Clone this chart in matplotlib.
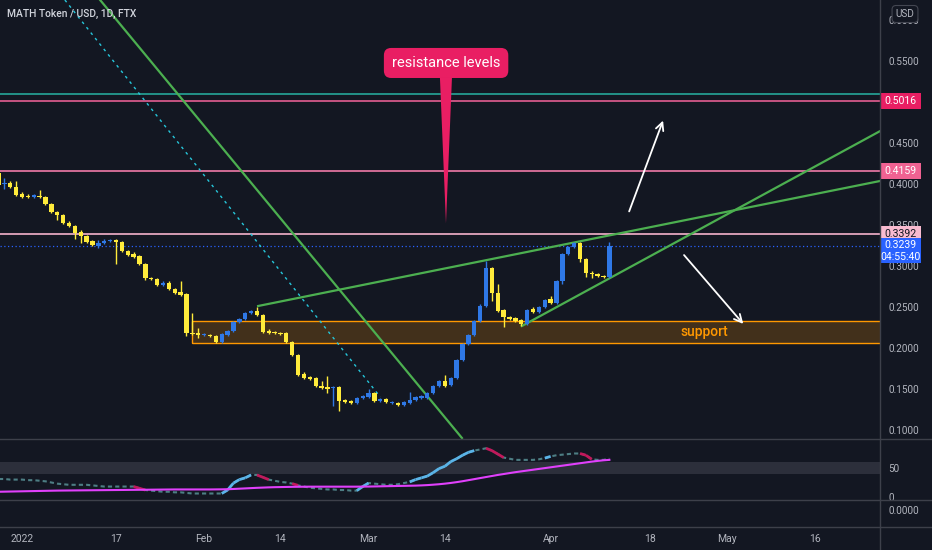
import numpy as np
import matplotlib.pyplot as plt
from matplotlib.patches import Rectangle, Polygon
from matplotlib.lines import Line2D

plt.rcParams['font.family'] = ['Roboto', 'DejaVu Sans']

BG = '#131722'
AXC = '#b2b5be'
SEP = '#3d404a'
UP = '#2f78e6'
DOWN = '#ffeb3b'

# daily candles from 28 Dec 2021 to 11 Apr 2022, x = days since 1 Jan 2022
first_day = -4
opens = [.4134, .4000, .4012, .3963, .3878, .3854, .3846, .3854, .3841, .3756,
         .3659, .3622, .3524, .3488, .3415, .3366, .3305, .3244, .3280, .3305,
         .3317, .3293, .3183, .3146, .3122, .3024, .2854, .2841, .2768, .2793,
         .2720, .2683, .2659, .2183, .2183, .2159, .2159, .2146, .2073, .2159,
         .2207, .2317, .2354, .2427, .2451, .2402, .2207, .2195, .2183, .2183,
         .2073, .1915, .1683, .1646, .1634, .1537, .1524, .1512, .1524, .1366,
         .1354, .1329, .1390, .1402, .1451, .1354, .1378, .1329, .1329, .1305,
         .1329, .1366, .1390, .1390, .1451, .1537, .1598, .1549, .1634, .1854,
         .2049, .2159, .2329, .2512, .2976, .2671, .2463, .2378, .2366, .2341,
         .2293, .2476, .2439, .2500, .2598, .2549, .2817, .3146, .3232, .3280,
         .3085, .2915, .2902, .2878, .2866]
highs = [.4171, .4073, .4037, .4037, .3902, .3878, .3878, .3927, .3854, .3768,
         .3671, .3634, .3549, .3500, .3439, .3378, .3317, .3317, .3329, .3329,
         .3329, .3305, .3195, .3171, .3134, .3037, .2866, .2854, .2817, .2817,
         .2732, .2817, .2671, .2427, .2244, .2183, .2171, .2159, .2183, .2220,
         .2329, .2366, .2439, .2463, .2500, .2415, .2232, .2207, .2195, .2195,
         .2085, .1927, .1707, .1659, .1646, .1598, .1659, .1537, .1537, .1378,
         .1366, .1402, .1427, .1500, .1463, .1390, .1390, .1354, .1341, .1354,
         .1463, .1415, .1427, .1463, .1549, .1610, .1671, .1646, .1866, .2061,
         .2171, .2341, .2537, .3061, .2988, .2780, .2476, .2390, .2378, .2354,
         .2476, .2500, .2512, .2598, .2634, .2829, .3159, .3244, .3293, .3293,
         .3098, .2939, .2915, .2890, .3293]
lows = [.3976, .3939, .3951, .3854, .3829, .3829, .3829, .3829, .3744, .3646,
        .3561, .3512, .3476, .3329, .3280, .3280, .3244, .3220, .3268, .3293,
        .3024, .3171, .3122, .3098, .3012, .2829, .2829, .2756, .2756, .2707,
        .2659, .2634, .2146, .2159, .2122, .2146, .2134, .2061, .2061, .2146,
        .2195, .2305, .2341, .2415, .2390, .2183, .2171, .2171, .2159, .2061,
        .1902, .1659, .1622, .1610, .1524, .1500, .1451, .1293, .1232, .1329,
        .1317, .1317, .1378, .1390, .1341, .1341, .1329, .1317, .1293, .1293,
        .1317, .1354, .1378, .1378, .1439, .1524, .1524, .1537, .1622, .1841,
        .2037, .2146, .2317, .2500, .2573, .2439, .2256, .2341, .2317, .2268,
        .2280, .2427, .2427, .2488, .2537, .2537, .2780, .3134, .3220, .3049,
        .2866, .2854, .2866, .2854, .2854]
closes = [.3988, .4012, .3963, .3866, .3841, .3841, .3860, .3841, .3756, .3659,
          .3622, .3524, .3488, .3402, .3366, .3293, .3256, .3280, .3305, .3317,
          .3293, .3183, .3134, .3110, .3024, .2854, .2841, .2768, .2793, .2720,
          .2671, .2646, .2183, .2171, .2159, .2171, .2146, .2073, .2171, .2207,
          .2317, .2354, .2427, .2451, .2402, .2195, .2183, .2183, .2171, .2073,
          .1915, .1671, .1634, .1622, .1537, .1512, .1500, .1524, .1354, .1341,
          .1329, .1390, .1415, .1451, .1354, .1378, .1341, .1341, .1305, .1341,
          .1366, .1402, .1415, .1451, .1537, .1598, .1537, .1634, .1854, .2049,
          .2159, .2329, .2512, .2976, .2671, .2451, .2378, .2354, .2329, .2293,
          .2463, .2439, .2500, .2585, .2549, .2817, .3146, .3232, .3280, .3085,
          .2915, .2902, .2878, .2866, .3239]

# oscillator pane
osc = [31, 31, 30, 30, 30, 29, 29, 28, 27, 25,
       23, 22, 21, 21, 21, 21, 20, 19, 18, 18,
       18, 18, 18, 18, 15, 12, 11, 10, 9, 9,
       8, 8, 7, 6, 6, 6, 6, 6, 6, 12,
       24, 30, 33, 38, 38, 34, 30, 28, 26, 25,
       23, 20, 18, 16, 15, 14, 13, 13, 12, 12,
       11, 11, 18, 24, 23, 22, 21, 21, 22, 24,
       26, 30, 33, 36, 42, 49, 53, 61, 66, 72,
       77, 80, 82, 84, 80, 74, 68, 66, 64, 64,
       64, 64, 65, 67, 70, 72, 73, 74, 75, 75,
       72, 65, 64, 64, 66]
osc_ma = [9.0, 9.2, 9.4, 9.6, 9.8, 10.0, 10.2, 10.4, 10.6, 10.8,
          11.0, 11.1, 11.2, 11.3, 11.4, 11.5, 11.6, 11.7, 11.8, 11.9,
          12.0, 12.1, 12.2, 12.3, 12.4, 12.5, 12.6, 12.7, 12.8, 12.9,
          13.0, 13.0, 13.0, 13.0, 13.0, 13.0, 13.0, 13.1, 13.2, 13.4,
          13.8, 14.3, 14.8, 15.3, 15.8, 16.2, 16.6, 16.9, 17.1, 17.3,
          17.5, 17.6, 17.7, 17.8, 17.8, 17.8, 17.8, 17.8, 17.8, 17.8,
          17.8, 17.8, 17.9, 18.0, 18.2, 18.4, 18.6, 18.8, 19.0, 19.2,
          19.4, 19.6, 20.0, 20.5, 21.2, 22.0, 23.0, 24.2, 25.6, 27.2,
          29.0, 30.8, 32.6, 34.4, 36.2, 38.0, 39.6, 41.2, 42.8, 44.2,
          45.6, 47.0, 48.4, 49.8, 51.2, 52.6, 54.0, 55.4, 56.8, 58.2,
          59.6, 61.0, 62.2, 63.2, 64.0]

# drawings
teal_level = 0.5098
res_levels = [0.5016, 0.4159, 0.3392]
res_line_colors = ['#e35d91', '#f07aa8', '#f5b3cc']
res_tag_colors = ['#e91e63', '#f06292', '#f8bbd0']
res_text_colors = ['white', 'white', '#131722']
last_price = 0.3239
countdown = '04:55:40'
support_zone = (0.2061, 0.2329)
support_start = 28.9
steep_line = [(13.3, 0.6244), (74.9, 0.0902)]
dashed_line = [(7.3, 0.6244), (61.0, 0.1402)]
upper_trend = [(40.2, 0.2512), (146.1, 0.4037)]
lower_trend = [(85.1, 0.2268), (146.1, 0.4646)]
arrow_up = [(103.2, 0.3634), (109.3, 0.4805)]
arrow_down = [(112.4, 0.3159), (123.1, 0.2268)]

tick_days = [0, 16, 31, 44, 59, 72, 90, 107, 120, 135]
tick_names = ['2022', '17', 'Feb', '14', 'Mar', '14', 'Apr', '18', 'May', '16']
price_ticks = [0.10, 0.15, 0.20, 0.25, 0.30, 0.35, 0.40, 0.45, 0.50, 0.55, 0.60]

W, H = 932, 550
def box(x0, y0, x1, y1):
    return [x0 / W, 1 - y1 / H, (x1 - x0) / W, (y1 - y0) / H]

fig = plt.figure(figsize=(W / 100, H / 100), dpi=100)
fig.patch.set_facecolor(BG)
ax = fig.add_axes(box(0, 0, 880, 439))
ax2 = fig.add_axes(box(0, 439, 880, 500), sharex=ax)
ax3 = fig.add_axes(box(0, 500, 880, 527), sharex=ax)
for a in (ax, ax2, ax3):
    a.set_facecolor(BG)
    for s in a.spines.values():
        s.set_visible(False)
    a.yaxis.tick_right()
    a.tick_params(axis='y', length=0, pad=6, labelsize=7.2, labelcolor=AXC)
    a.tick_params(axis='x', length=0)

ymin, ymax = 0.0890, 0.6244
ax.set_xlim(-3.745, 146.07)
ax.set_ylim(ymin, ymax)
px = (ymax - ymin) / 439

# candles
days = np.arange(len(opens)) + first_day
o = np.array(opens); c = np.array(closes)
cols = [UP if cc >= oo else DOWN for oo, cc in zip(o, c)]
ax.vlines(days, lows, highs, colors=cols, lw=1, zorder=4)
ax.bar(days, np.maximum(np.abs(c - o), 1.2 * px), bottom=np.minimum(o, c),
       width=0.74, color=cols, zorder=4, linewidth=0)

# levels
ax.axhline(teal_level, color='#26a69a', lw=1.2, zorder=3)
for lv, lc in zip(res_levels, res_line_colors):
    ax.axhline(lv, color=lc, lw=1.2, zorder=3)
ax.axhline(last_price, color='#2962ff', lw=0.9, ls=(0, (1, 2)), zorder=3)

# support zone
ax.add_patch(Rectangle((support_start, support_zone[0]), 200, support_zone[1] - support_zone[0],
                       fc='#ff9800', alpha=0.2, ec='none', zorder=2))
ax.add_patch(Rectangle((support_start, support_zone[0]), 200, support_zone[1] - support_zone[0],
                       fc='none', ec='#ff9800', lw=1, zorder=2))
ax.text(116.1, sum(support_zone) / 2, 'support', color='#ff9800', fontsize=10,
        ha='center', va='center', fontweight='medium', zorder=5)

# trend lines
for (x0, y0), (x1, y1) in (steep_line, upper_trend, lower_trend):
    ax.plot([x0, x1], [y0, y1], color='#4caf50', lw=1.6, zorder=3)
ax.plot(*zip(*dashed_line), color='#26c6da', lw=1, ls=(0, (2, 3)), zorder=3)

for s, e in (arrow_up, arrow_down):
    ax.annotate('', xy=e, xytext=s,
                arrowprops=dict(arrowstyle='->', color='white', lw=1.3, mutation_scale=14))

# callout
ax.add_patch(Polygon([(71.15, 0.530), (73.2, 0.530), (72.18, 0.352)],
                     closed=True, fc='#e91e63', ec='none', zorder=6))
ax.text(72.2, 0.5476, 'resistance levels', color='white', fontsize=10.5,
        ha='center', va='center', zorder=7,
        bbox=dict(boxstyle='round,pad=0.55,rounding_size=0.5', fc='#e91e63', ec='none'))

# price axis (0.5000 is hidden behind the 0.5016 tag)
ax.set_yticks(price_ticks)
ax.set_yticklabels(['' if abs(t - 0.5) < 1e-9 else f'{t:.4f}' for t in price_ticks])
ytr = ax.get_yaxis_transform()

def tag(price, up, dn, fc):
    ax.add_patch(Rectangle((1.0, price - dn * px), 41 / 880, (up + dn) * px,
                           transform=ytr, clip_on=False, fc=fc, ec='none', zorder=8))

for lv, fc, tc in zip(res_levels, res_tag_colors, res_text_colors):
    tag(lv, 8, 8, fc)
    ax.text(1.0 + 20.5 / 880, lv, f'{lv:.4f}', transform=ytr, ha='center', va='center',
            color=tc, fontsize=7.6, zorder=9, clip_on=False)
tag(last_price, 8.5, 16.5, '#2962ff')
ax.text(1.0 + 20.5 / 880, last_price + 1 * px, f'{last_price:.4f}', transform=ytr,
        ha='center', va='center', color='white', fontsize=7.6, zorder=9, clip_on=False)
ax.text(1.0 + 20.5 / 880, last_price - 11 * px, countdown, transform=ytr,
        ha='center', va='center', color='white', fontsize=7.6, zorder=9, clip_on=False)

fig.text(905 / W, 1 - 14 / H, 'USD', color=AXC, fontsize=7.2, ha='center', va='center',
         zorder=10, bbox=dict(boxstyle='round,pad=0.35,rounding_size=0.4', fc=BG, ec='#434651', lw=0.8))
fig.text(7 / W, 1 - 14 / H, 'MATH Token / USD, 1D, FTX', color='#d1d4dc', fontsize=7.4,
         ha='left', va='center', fontweight='medium')

# oscillator pane
ax2.set_ylim(-5.2, 100)
ax2.axhspan(40, 60, color='#2c2f3b', zorder=1, lw=0)
ax2.plot(days, osc, color='#4d7e84', lw=1.5, ls=(0, (2, 1.5)), zorder=3)
for i in range(1, len(osc)):
    d = osc[i] - osc[i - 1]
    if abs(d) >= 3:
        ax2.plot(days[i - 1:i + 1], osc[i - 1:i + 1], color='#5ab4e8' if d > 0 else '#c2185b',
                 lw=2.0, zorder=4, solid_capstyle='butt')
ax2.plot(days, osc_ma, color='#e040fb', lw=1.5, zorder=5)
ax2.set_yticks([0, 50])

ax3.set_ylim(-0.63, 0.37)
ax3.set_yticks([0])
ax3.set_yticklabels(['0.0000'])

ax3.set_xticks(tick_days)
ax3.set_xticklabels(tick_names)
ax3.tick_params(axis='x', labelsize=7.5, labelcolor=AXC, pad=5)
plt.setp(ax.get_xticklabels(), visible=False)
plt.setp(ax2.get_xticklabels(), visible=False)

for yy in (439, 500, 527):
    fig.add_artist(Line2D([0, 1], [1 - yy / H] * 2, color=SEP, lw=1))
fig.add_artist(Line2D([880 / W] * 2, [0, 1], color=SEP, lw=1))

fig.savefig('out.png', dpi=100, facecolor=BG)
